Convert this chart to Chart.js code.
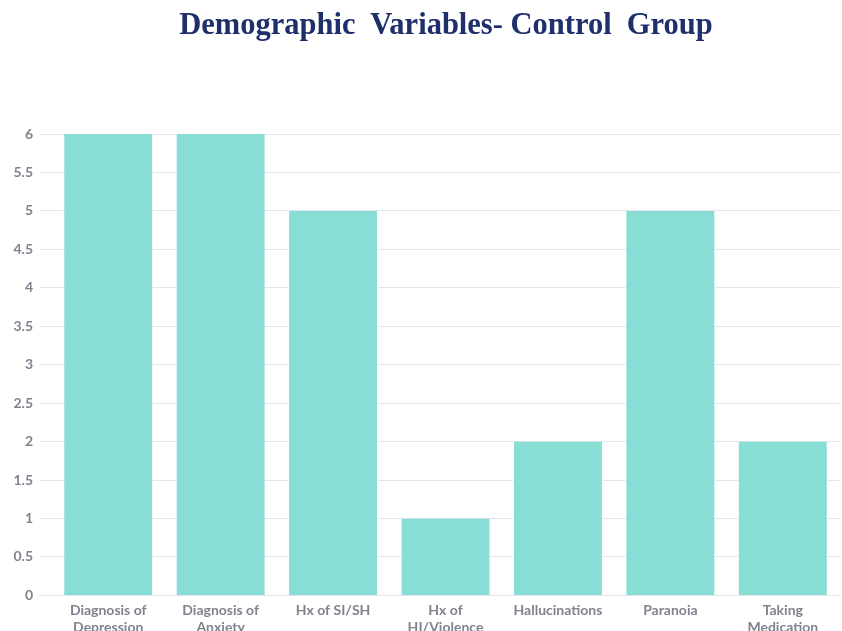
<!DOCTYPE html>
<html>
<head>
<meta charset="utf-8">
<script src="https://cdn.jsdelivr.net/npm/chart.js@4.4.0/dist/chart.umd.min.js"></script>
<style>
    html, body { margin: 0; padding: 0; background: #fff; overflow: hidden; }
    #wrap { width: 842px; height: 643px; position: relative; }
    #title {
        position: absolute; left: 50px; width: 792px; top: 7px;
        text-align: center; margin: 0;
        font: bold 30.5px 'Liberation Serif', 'Times New Roman', serif;
        color: #1f2f6b; white-space: pre;
    }
</style>
</head>
<body>
<div id="wrap">
    <div id="title">Demographic  Variables- Control  Group</div>
    <canvas id="chart"></canvas>
</div>
<script>
    // Chart data
    const categories = [
        ['Diagnosis of', 'Depression'],
        ['Diagnosis of', 'Anxiety'],
        'Hx of SI/SH',
        ['Hx of', 'HI/Violence'],
        'Hallucinations',
        'Paranoia',
        ['Taking', 'Medication']
    ];
    const counts = [6, 6, 5, 1, 2, 5, 2];
    const yTicks = [0, 0.5, 1, 1.5, 2, 2.5, 3, 3.5, 4, 4.5, 5, 5.5, 6];

    const tickFont = { family: "'Lato', 'Open Sans', sans-serif", size: 14, weight: 'bold' };

    new Chart(document.getElementById('chart'), {
        type: 'bar',
        data: {
            labels: categories,
            datasets: [{
                label: 'Control Group',
                data: counts,
                backgroundColor: '#88ddd4',
                borderColor: '#ffffff',
                borderWidth: { left: 1, right: 1, top: 0, bottom: 0 },
                barPercentage: 0.8,
                categoryPercentage: 1.0
            }]
        },
        options: {
            responsive: true,
            maintainAspectRatio: false,
            animation: false,
            layout: { padding: { left: 0, right: 3, top: 134, bottom: 0 } },
            plugins: {
                legend: { display: false },
                tooltip: { enabled: false }
            },
            scales: {
                x: {
                    grid: { display: false, drawTicks: false },
                    border: { display: false },
                    ticks: {
                        color: '#80838f',
                        font: tickFont,
                        padding: 7,
                        maxRotation: 0,
                        autoSkip: false
                    }
                },
                y: {
                    min: 0,
                    max: 6,
                    afterBuildTicks: function(scale) {
                        scale.ticks = yTicks.map(v => ({ value: v }));
                    },
                    afterFit: function(scale) {
                        scale.width = 52;
                    },
                    grid: {
                        color: '#e2e5ee',
                        lineWidth: 1,
                        drawTicks: true,
                        tickLength: 12
                    },
                    border: { display: false },
                    ticks: {
                        color: '#80838f',
                        font: tickFont,
                        padding: 7,
                        callback: function(value) { return String(value); }
                    }
                }
            }
        }
    });
</script>
</body>
</html>
